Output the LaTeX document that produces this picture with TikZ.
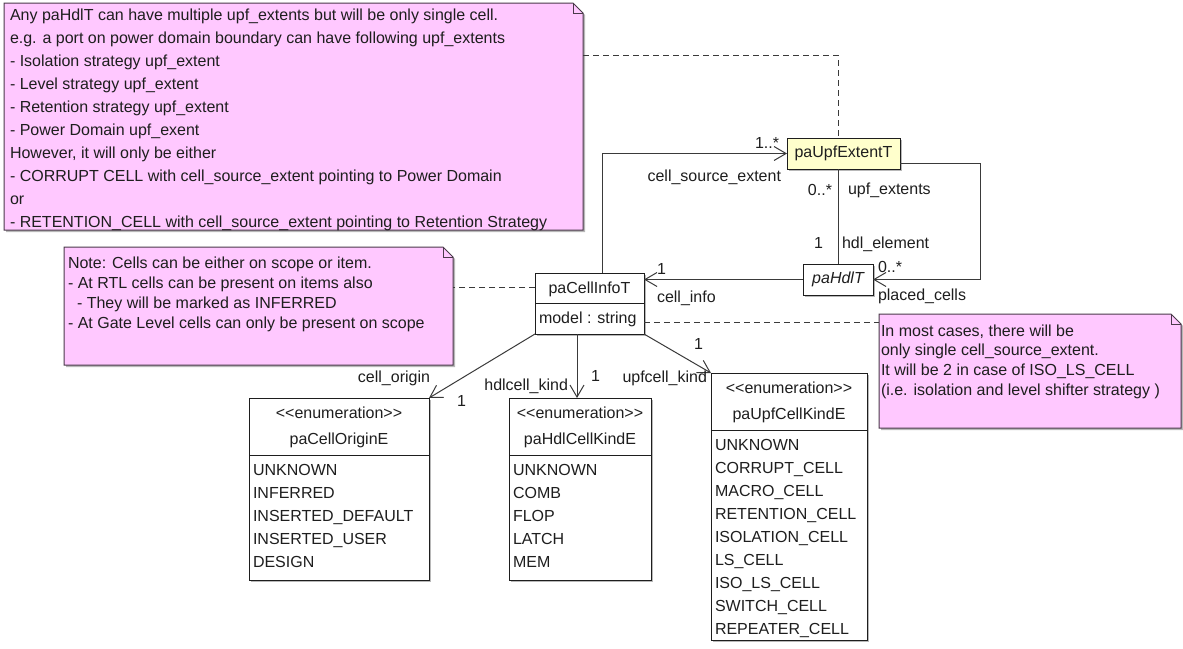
\documentclass[tikz,border=0pt]{standalone}
\usepackage{fontspec}
\setmainfont{Liberation Sans}
\usetikzlibrary{arrows.meta,calc,shadows}
\definecolor{notefill}{HTML}{FFC8FF}
\definecolor{classfill}{HTML}{FFFFCC}
\definecolor{ink}{HTML}{1E1E1E}
\definecolor{wirec}{HTML}{3A3A3A}
\definecolor{noteline}{HTML}{4A3A4A}

% note outline with a folded top-right corner, drawn round an empty named node
\newcommand\umlnote[1]{%
  \path[notepath] (#1.north west) -- ($(#1.north east)+(-10,0)$)
    -- ($(#1.north east)+(0,10)$) -- (#1.south east) -- (#1.south west) -- cycle;
  \draw[foldline] ($(#1.north east)+(-10,0)$) |- ($(#1.north east)+(0,10)$);}

% enumeration compartments: stereotype, name, divider and literals
\newcommand\enumbox[3]{%
  \draw[divider] ($(#1.north west)+(0,57)$) -- ($(#1.north east)+(0,57)$);
  \node[ctxt] (#1-st) at ($(#1.north)+(0,20)$) {<\kern0pt<enumeration>\kern0pt>};
  \node[ctxt] (#1-nm) at ($(#1.north)+(0,46)$) {#2};
  \foreach \lit [count=\k from 0] in {#3}
    \node[txt] (#1-\k) at ($(#1.north west)+(4,77+23*\k)$) {\lit};}

\begin{document}
\begin{tikzpicture}[x=1pt,y=-1pt,
  every node/.style={inner sep=0pt,outer sep=0pt,text=ink,
    font=\fontsize{16}{20}\selectfont},
  boxshadow/.style={drop shadow={shadow xshift=2pt,shadow yshift=-2pt,fill=black,opacity=.28}},
  classbox/.style={draw=ink,line width=1pt,fill=white,anchor=north west,boxshadow},
  area/.style={anchor=north west},
  notepath/.style={draw=noteline,line width=1pt,fill=notefill,boxshadow},
  foldline/.style={draw=noteline,line width=1pt},
  divider/.style={draw=ink,line width=1pt},
  wire/.style={draw=wirec,line width=1pt},
  nav/.style={wire,-{Straight Barb[length=12pt,width=14pt]}},
  link/.style={wire,dash pattern=on 6pt off 4pt},
  txt/.style={anchor=base west},
  ctxt/.style={anchor=base},
  rtxt/.style={anchor=base east},
]
\fill[white] (0,0) rectangle (1183,648);
\useasboundingbox (0,0) rectangle (1183,648);

% ---------- notes ----------
\node[area,minimum width=579pt,minimum height=227pt] (note1) at (4,3) {};
\umlnote{note1}
\foreach \ln [count=\k from 0] in {
  Any paHdlT can have multiple upf\_extents but will be only single cell.,
  e.g. a port on power domain boundary can have following upf\_extents,
  - Isolation strategy upf\_extent,
  - Level strategy upf\_extent,
  - Retention strategy upf\_extent,
  - Power Domain upf\_exent,
  {However, it will only be either},
  - CORRUPT CELL with cell\_source\_extent pointing to Power Domain,
  or,
  - RETENTION\_CELL with cell\_source\_extent pointing to Retention Strategy}
  \node[txt] (n1-\k) at ($(note1.north west)+(6,17+23.1*\k)$) {\ln};

\node[area,minimum width=389pt,minimum height=118pt] (note2) at (64,247) {};
\umlnote{note2}
\foreach \ln [count=\k from 0] in {
  Note: Cells can be either on scope or item.,
  - At RTL cells can be present on items also,
  \hspace*{9pt}- They will be marked as INFERRED,
  - At Gate Level cells can only be present on scope}
  \node[txt] (n2-\k) at ($(note2.north west)+(4,21+20*\k)$) {\ln};

\node[area,minimum width=302pt,minimum height=114pt] (note3) at (879,314) {};
\umlnote{note3}
\foreach \ln [count=\k from 0] in {
  {In most cases, there will be},
  only single cell\_source\_extent.,
  It will be 2 in case of ISO\_LS\_CELL,
  (i.e. isolation and level shifter strategy )}
  \node[txt] (n3-\k) at ($(note3.north west)+(2,22+19.8*\k)$) {\ln};

% ---------- classes ----------
\node[classbox,fill=classfill,minimum width=113pt,minimum height=31pt] (upf) at (787,138) {paUpfExtentT};
\node[classbox,minimum width=70pt,minimum height=31pt] (hdl) at (803,264) {\itshape paHdlT};

\node[classbox,minimum width=109pt,minimum height=61pt] (cellinfo) at (535,273) {};
\draw[divider] ($(cellinfo.north west)+(0,30)$) -- ($(cellinfo.north east)+(0,30)$);
\node[ctxt] (ci-nm) at ($(cellinfo.north)+(0,20)$) {paCellInfoT};
\node[txt] (ci-at) at ($(cellinfo.north west)+(4,50)$) {model : string};

% ---------- enumerations ----------
\node[classbox,minimum width=180pt,minimum height=182pt] (origin) at (249,398) {};
\enumbox{origin}{paCellOriginE}{UNKNOWN,INFERRED,INSERTED\_DEFAULT,INSERTED\_USER,DESIGN}
\node[classbox,minimum width=142pt,minimum height=182pt] (hdlkind) at (509,398) {};
\enumbox{hdlkind}{paHdlCellKindE}{UNKNOWN,COMB,FLOP,LATCH,MEM}
\node[classbox,minimum width=156pt,minimum height=267pt] (upfkind) at (711,373) {};
\enumbox{upfkind}{paUpfCellKindE}{UNKNOWN,CORRUPT\_CELL,MACRO\_CELL,RETENTION\_CELL,ISOLATION\_CELL,LS\_CELL,ISO\_LS\_CELL,SWITCH\_CELL,REPEATER\_CELL}

% ---------- associations ----------
\draw[nav] ($(cellinfo.north west)+(67,0)$) |- (upf.west);
\draw[wire] (hdl.north |- upf.south) -- (hdl.north);
\draw[nav] ($(upf.east)+(0,9.5)$) -| ($(hdl.east)+(107,0)$) -- (hdl.east);
\draw[nav] (hdl.west) -- (hdl.west -| cellinfo.east);
\draw[nav] (cellinfo.south west) -- (origin.north east);
\coordinate (kindx) at ($(cellinfo.south west)+(42,0)$);
\draw[nav] (kindx) -- (kindx |- hdlkind.north);
\draw[nav] (cellinfo.south east) -- (upfkind.north west);

% ---------- note anchors ----------
\draw[link] ($(note1.north east)+(0,52)$) -| (hdl.north |- upf.north);
\coordinate (ciL) at ($(cellinfo.north west)+(0,14)$);
\draw[link] (ciL) -- (ciL -| note2.east);
\coordinate (ciR) at ($(cellinfo.north east)+(0,49)$);
\draw[link] (ciR) -- (ciR -| note3.west);

% ---------- role names and multiplicities ----------
\node[ctxt] (m-src) at (767,148) {1..*};
\node[rtxt] (r-src) at (781,181) {cell\_source\_extent};
\node[rtxt] (m-ext) at (832,195) {0..*};
\node[txt] (r-ext) at (848,194) {upf\_extents};
\node[rtxt] (m-hdl) at (823,248) {1};
\node[txt] (r-hdl) at (842,248) {hdl\_element};
\node[txt] (m-pl) at (878,272) {0..*};
\node[txt] (r-pl) at (878,300) {placed\_cells};
\node[txt] (m-ci) at (657,274) {1};
\node[txt] (r-ci) at (657,302) {cell\_info};
\node[rtxt] (r-or) at (430,382) {cell\_origin};
\node[txt] (m-or) at (457,406) {1};
\node[rtxt] (r-hk) at (568,390) {hdlcell\_kind};
\node[txt] (m-hk) at (591,381) {1};
\node[rtxt] (r-uk) at (707,382) {upfcell\_kind};
\node[txt] (m-uk) at (694,349) {1};
\end{tikzpicture}
\end{document}
